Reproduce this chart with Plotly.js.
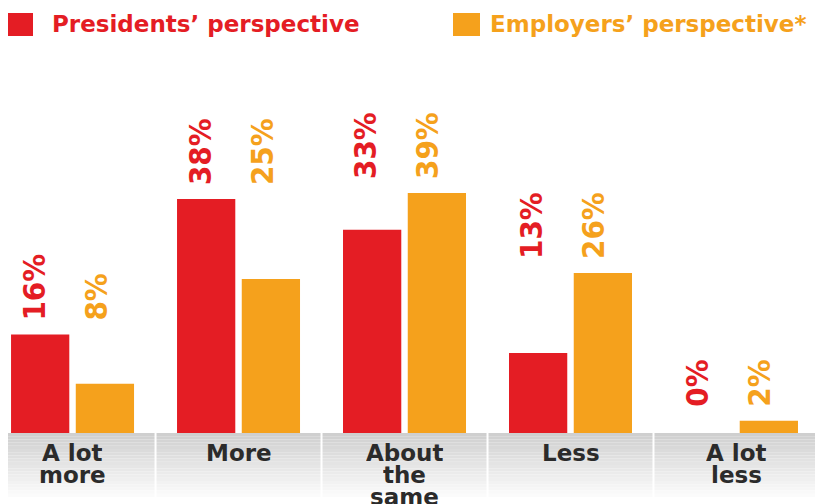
<!DOCTYPE html>
<html>
<head>
<meta charset="utf-8">
<script src="https://cdn.plot.ly/plotly-3.0.1.min.js"></script>
<style>html,body{margin:0;padding:0;background:#fff;}#chart{width:815px;height:504px;}</style>
</head>
<body>
<div id="chart"></div>
<script>
const categories = ["A lot more", "More", "About the same", "Less", "A lot less"];
const categoryLines = [["A lot", "more"], ["More"], ["About", "the", "same"], ["Less"], ["A lot", "less"]];
const presidents = [16, 38, 33, 13, 0];
const employers = [8, 25, 39, 26, 2];
const seriesNames = ["Presidents’ perspective", "Employers’ perspective*"];
const RED = "#e41d24", ORANGE = "#f5a11c";

const W = 815, H = 504, T = 156, B = 71;
const plotH = H - T - B;
const baseY = H - B;
const px2x = p => p / W;
const py2y = p => (baseY - p) / plotH;

const traces = [
  {type: "bar", x: categories, y: presidents, name: seriesNames[0], marker: {color: RED}, hoverinfo: "skip"},
  {type: "bar", x: categories, y: employers, name: seriesNames[1], marker: {color: ORANGE}, hoverinfo: "skip"}
];

const shapes = [];
const annotations = [];

// gradient gray band under the axis
const bandTop = baseY, bandBot = 497, N = 20;
for (let i = 0; i < N; i++) {
  const t = i / (N - 1);
  const c = Math.round(0xcf + (0xfb - 0xcf) * t);
  const y0p = bandTop + (bandBot - bandTop) * i / N;
  const y1p = bandTop + (bandBot - bandTop) * (i + 1) / N;
  shapes.push({type: "rect", xref: "paper", yref: "paper", x0: px2x(8), x1: 1,
    y0: py2y(y0p), y1: py2y(y1p), fillcolor: `rgb(${c},${c},${c})`, line: {width: 0}, layer: "below"});
}
// white separators
for (let i = 0; i < categories.length - 1; i++) {
  shapes.push({type: "line", xref: "x", yref: "paper", x0: i + 0.5, x1: i + 0.5,
    y0: py2y(bandTop), y1: py2y(bandBot), line: {color: "#ffffff", width: 2}});
}
// legend squares
shapes.push({type: "rect", xref: "paper", yref: "paper", x0: px2x(8), x1: px2x(33), y0: py2y(13), y1: py2y(36), fillcolor: RED, line: {width: 0}});
shapes.push({type: "rect", xref: "paper", yref: "paper", x0: px2x(453), x1: px2x(480), y0: py2y(13), y1: py2y(36), fillcolor: ORANGE, line: {width: 0}});
const legFont = {family: "DejaVu Sans", size: 23, weight: 700};
annotations.push({xref: "paper", yref: "paper", x: px2x(50), y: py2y(24), xanchor: "left", yanchor: "middle",
  text: seriesNames[0], showarrow: false, font: Object.assign({color: RED}, legFont)});
annotations.push({xref: "paper", yref: "paper", x: px2x(488), y: py2y(24), xanchor: "left", yanchor: "middle",
  text: seriesNames[1], showarrow: false, font: Object.assign({color: ORANGE}, legFont)});

// category labels (one annotation per line)
categoryLines.forEach((lines, i) => {
  lines.forEach((ln, j) => {
    annotations.push({xref: "x", yref: "paper", x: categories[i], y: py2y(453 + 22 * j),
      xanchor: "center", yanchor: "middle", text: ln, showarrow: false, height: 20, borderpad: 0,
      font: {family: "DejaVu Sans", size: 23, weight: 700, color: "#2b2b2b"}});
  });
});

// value labels
const pctFont = {family: "Liberation Sans Narrow, DejaVu Sans Condensed, Arial Narrow, sans-serif", size: 31, weight: 700};
categories.forEach((c, i) => {
  const top = Math.max(presidents[i], employers[i]);
  annotations.push({xref: "x", yref: "y", x: c, y: top, xshift: -39, yshift: 12, textangle: -90,
    xanchor: "center", yanchor: "bottom", text: presidents[i] + "%", showarrow: false,
    font: Object.assign({color: RED}, pctFont)});
  annotations.push({xref: "x", yref: "y", x: c, y: top, xshift: 23, yshift: 12, textangle: -90,
    xanchor: "center", yanchor: "bottom", text: employers[i] + "%", showarrow: false,
    font: Object.assign({color: ORANGE}, pctFont)});
});

const layout = {
  width: W, height: H,
  margin: {l: 0, r: 0, t: T, b: B, pad: 0},
  paper_bgcolor: "#ffffff", plot_bgcolor: "#ffffff",
  barmode: "group", bargap: 0.22, bargroupgap: 0.1,
  showlegend: false,
  xaxis: {type: "category", range: [-0.437, 4.473], showticklabels: false, showgrid: false, zeroline: false, showline: false, ticks: "", fixedrange: true},
  yaxis: {range: [0, 45], visible: false, showgrid: false, zeroline: false, fixedrange: true},
  shapes: shapes,
  annotations: annotations
};

Plotly.newPlot("chart", traces, layout, {displayModeBar: false, staticPlot: true});
</script>
</body>
</html>
